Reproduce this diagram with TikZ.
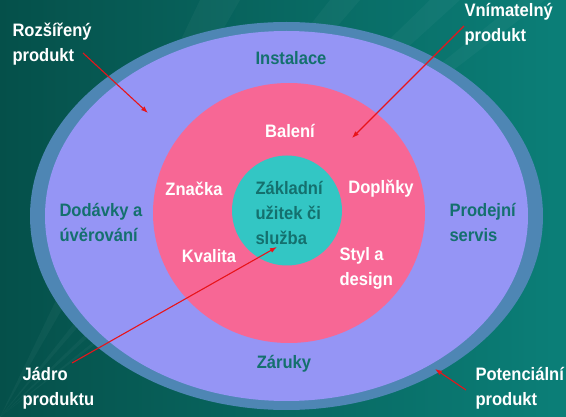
\documentclass[tikz,border=0pt]{standalone}
\usepackage{fontspec}
\setsansfont{Liberation Sans}[FakeStretch=0.92]
\usetikzlibrary{arrows.meta,shapes.geometric}
\definecolor{bgdark}{HTML}{05504A}
\definecolor{bglight}{HTML}{0B7F78}
\definecolor{ringc}{HTML}{4E86B4}
\definecolor{lavc}{HTML}{9595F5}
\definecolor{pinkc}{HTML}{F76795}
\definecolor{tealc}{HTML}{33C6C4}
\definecolor{darktxt}{HTML}{14706E}
\definecolor{arrowc}{HTML}{E8141A}
\tikzset{
  layer/.style={ellipse,inner sep=0pt},
  darklbl/.style={text=darktxt,align=left},
  whitelbl/.style={text=white,align=left},
  pointer/.style={->,arrowc,line width=1.1pt}
}

\begin{document}
\begin{tikzpicture}[x=1pt,y=-1pt,font=\sffamily\bfseries\fontsize{18}{25}\selectfont,>={Latex[length=7pt,width=5pt]}]
\useasboundingbox (0,0) rectangle (566,417);
\shade[left color=bgdark,right color=bglight] (0,0) rectangle (566,417);
% faint rays
\foreach \a/\b in {200/240,330/360,430/460,520/545}{\fill[white,opacity=0.035] (0,417) -- (\a,0) -- (\b,0) -- cycle;}
% product layers
\node[layer,fill=ringc,minimum width=513pt,minimum height=388pt] (pot) at (286.5,216) {};
\node[layer,fill=lavc,minimum width=483pt,minimum height=370pt] (roz) at (286.5,216) {};
\node[layer,fill=pinkc,minimum width=272pt,minimum height=260pt] (vni) at (289,213) {};
\node[circle,inner sep=0pt,fill=tealc,minimum size=110pt] (jad) at (287,210.5) {};
% texts in the layers
\node[darklbl] (inst) at (291,58) {Instalace};
\node[darklbl] (zar) at (284,364) {Záruky};
\node[darklbl,anchor=west] (dod) at (56,222) {Dodávky a\\úvěrování};
\node[darklbl,anchor=west] (pro) at (446,222) {Prodejní\\servis};
\node[whitelbl] (bal) at (290,131) {Balení};
\node[whitelbl] (zna) at (194,189) {Značka};
\node[whitelbl] (dop) at (381,189) {Doplňky};
\node[whitelbl] (kva) at (209,256) {Kvalita};
\node[whitelbl,anchor=west] (sty) at (336,268) {Styl a\\design};
\node[darklbl,anchor=west] (zak) at (252,213) {Základní\\užitek či\\služba};
% level names
\node[whitelbl,anchor=west] (lroz) at (9,44) {Rozšířený\\produkt};
\node[whitelbl,anchor=west] (lvni) at (461,24) {Vnímatelný\\produkt};
\node[whitelbl,anchor=west] (ljad) at (19,388) {Jádro\\produktu};
\node[whitelbl,anchor=west] (lpot) at (472,388) {Potenciální\\produkt};
% pointers
\coordinate (sroz) at (83,53);
\coordinate (troz) at (148,113);
\coordinate (svni) at (464,26);
\coordinate (tvni) at (352,138);
\coordinate (sjad) at (72,363);
\coordinate (tjad) at (277,247);
\coordinate (spot) at (466,390);
\coordinate (tpot) at (435,369);
\draw[pointer] (sroz) -- (troz);
\draw[pointer] (svni) -- (tvni);
\draw[pointer] (sjad) -- (tjad);
\draw[pointer] (spot) -- (tpot);
\end{tikzpicture}
\end{document}
